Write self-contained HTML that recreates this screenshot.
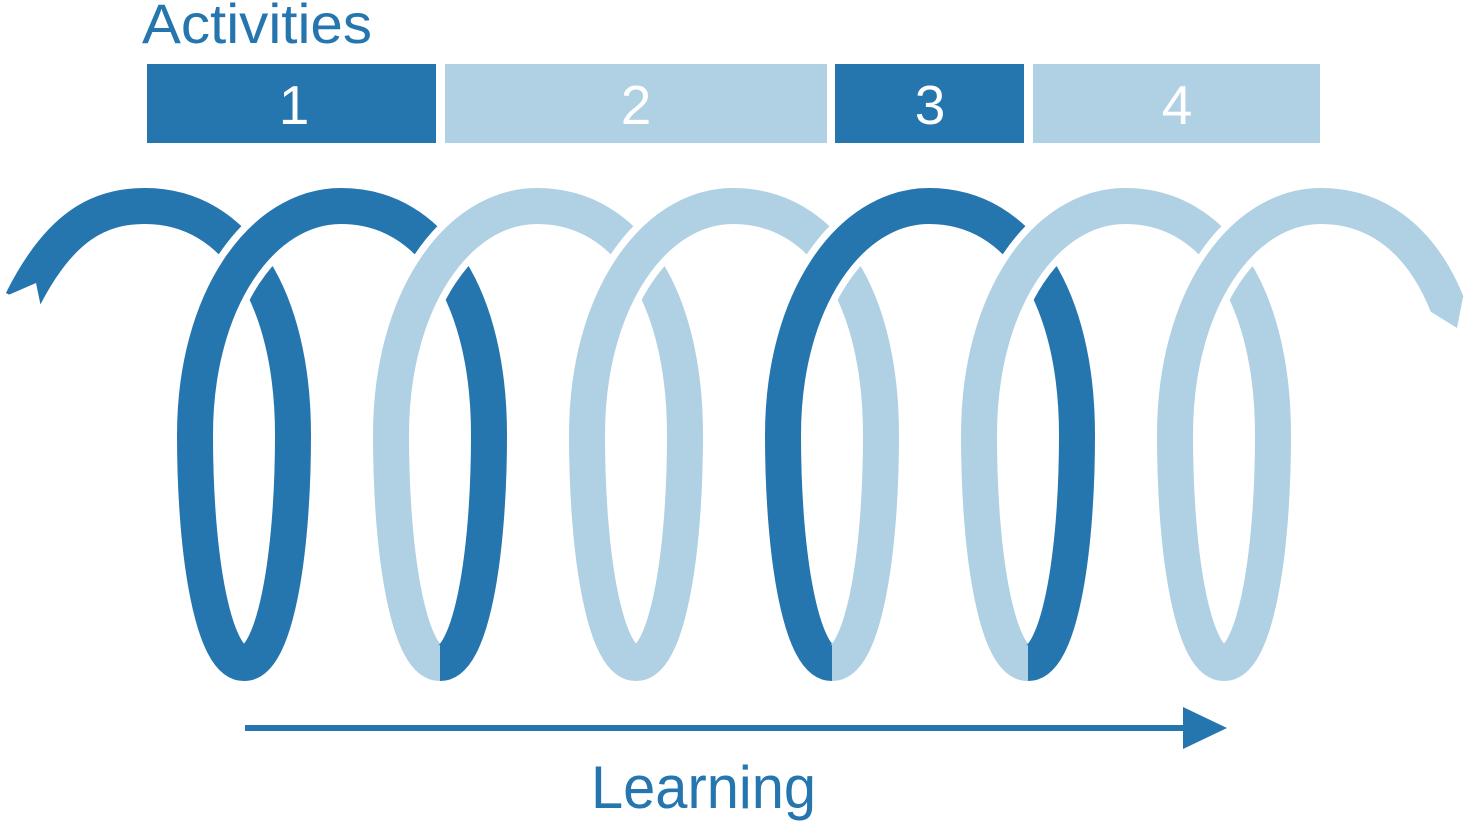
<!DOCTYPE html>
<html><head><meta charset="utf-8"><style>
html,body{margin:0;padding:0;background:#fff;}
svg{display:block;}
text{font-family:"Liberation Sans",sans-serif;}
</style></head><body>
<svg width="1472" height="821" viewBox="0 0 1472 821" xmlns="http://www.w3.org/2000/svg">
<text x="142" y="43" font-size="56" fill="#2576ae" textLength="230" lengthAdjust="spacingAndGlyphs">Activities</text>
<rect x="147" y="64" width="289" height="79" fill="#2576ae"/>
<rect x="445" y="64" width="382" height="79" fill="#b0d0e4"/>
<rect x="835" y="64" width="189" height="79" fill="#2576ae"/>
<rect x="1033" y="64" width="287" height="79" fill="#b0d0e4"/>
<g font-size="55" fill="#fff" text-anchor="middle">
<text x="294" y="124">1</text>
<text x="636" y="124">2</text>
<text x="930" y="124">3</text>
<text x="1177" y="124">4</text>
</g>
<g fill="none" stroke-width="36" stroke-linecap="butt">
<!-- lower halves -->
<path d="M195 435 C195 560 214 663 244 663" stroke="#2576ae"/>
<path d="M244 663 C274 663 293 560 293 435" stroke="#2576ae"/>
<path d="M391 435 C391 560 410 663 440 663" stroke="#b0d0e4"/>
<path d="M440 663 C470 663 489 560 489 435" stroke="#2576ae"/>
<path d="M587 435 C587 560 606 663 636 663" stroke="#b0d0e4"/>
<path d="M636 663 C666 663 685 560 685 435" stroke="#b0d0e4"/>
<path d="M783 435 C783 560 802 663 832 663" stroke="#2576ae"/>
<path d="M832 663 C862 663 881 560 881 435" stroke="#b0d0e4"/>
<path d="M979 435 C979 560 998 663 1028 663" stroke="#b0d0e4"/>
<path d="M1028 663 C1058 663 1077 560 1077 435" stroke="#2576ae"/>
<path d="M1175 435 C1175 560 1194 663 1224 663" stroke="#b0d0e4"/>
<path d="M1224 663 C1254 663 1273 560 1273 435" stroke="#b0d0e4"/>
<!-- arcs -->
<path d="M22 301 C60 225 100 206 145 206 C238 206 293 300 293 435" stroke="#2576ae"/>
<path d="M195 435 C195 300 262 206 341 206 C434 206 489 300 489 435" stroke="#fff" stroke-width="50"/>
<path d="M195 435 C195 300 262 206 341 206 C434 206 489 300 489 435" stroke="#2576ae"/>
<path d="M391 435 C391 300 458 206 537 206 C630 206 685 300 685 435" stroke="#fff" stroke-width="50"/>
<path d="M391 435 C391 300 458 206 537 206 C630 206 685 300 685 435" stroke="#b0d0e4"/>
<path d="M587 435 C587 300 654 206 733 206 C826 206 881 300 881 435" stroke="#fff" stroke-width="50"/>
<path d="M587 435 C587 300 654 206 733 206 C826 206 881 300 881 435" stroke="#b0d0e4"/>
<path d="M783 435 C783 300 850 206 929 206 C1022 206 1077 300 1077 435" stroke="#fff" stroke-width="50"/>
<path d="M783 435 C783 300 850 206 929 206 C1022 206 1077 300 1077 435" stroke="#2576ae"/>
<path d="M979 435 C979 300 1046 206 1125 206 C1218 206 1273 300 1273 435" stroke="#fff" stroke-width="50"/>
<path d="M979 435 C979 300 1046 206 1125 206 C1218 206 1273 300 1273 435" stroke="#b0d0e4"/>
<path d="M1175 435 C1175 300 1242 206 1321 206 C1414 206 1469 300 1469 435" stroke="#fff" stroke-width="50"/>
<path d="M1175 435 C1175 300 1242 206 1321 206 C1414 206 1469 300 1469 435" stroke="#b0d0e4"/>
</g>
<!-- end cuts -->
<polygon points="6,296 36,283 42,312 0,330 0,296" fill="#fff"/>
<polygon points="1420,310 1428,310 1457,328 1463,297 1472,290 1472,470 1420,470" fill="#fff"/>
<!-- learning arrow -->
<rect x="245" y="725" width="942" height="6" fill="#2576ae"/>
<polygon points="1183,707 1227,728 1183,749" fill="#2576ae"/>
<text x="591" y="808" font-size="60" fill="#2576ae" textLength="225" lengthAdjust="spacingAndGlyphs">Learning</text>
</svg>
</body></html>
